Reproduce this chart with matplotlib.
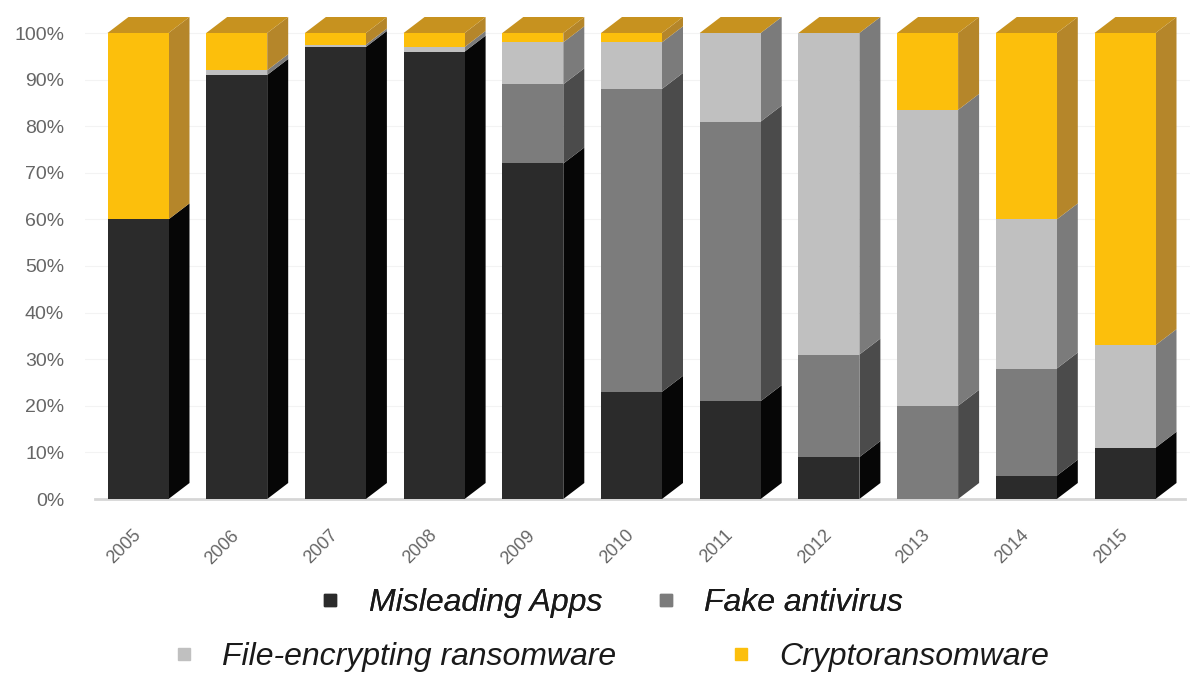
import matplotlib
matplotlib.use("Agg")
import matplotlib.pyplot as plt
from matplotlib.patches import Polygon
from matplotlib.lines import Line2D
import numpy as np

years = ["2005", "2006", "2007", "2008", "2009", "2010", "2011", "2012", "2013", "2014", "2015"]
misleading_apps = [60, 91, 97, 96, 72, 23, 21, 9, 0, 5, 11]
fake_antivirus = [0, 0, 0, 0, 17, 65, 60, 22, 20, 23, 0]
file_encrypting = [0, 1, 0.5, 1, 9, 10, 19, 69, 63.5, 32, 22]
cryptoransomware = [40, 8, 2.5, 3, 2, 2, 0, 0, 16.5, 40, 67]
series_names = ["Misleading Apps", "Fake antivirus", "File-encrypting ransomware", "Cryptoransomware"]
yticks = [0, 10, 20, 30, 40, 50, 60, 70, 80, 90, 100]

front_colors = ["#2b2b2b", "#7c7c7c", "#c0c0c0", "#fcbf0c"]
side_colors = ["#060606", "#4b4b4b", "#7b7b7b", "#b5862a"]
top_color = "#c7921f"

W, H = 1197, 678
fig = plt.figure(figsize=(W / 100, H / 100), dpi=100)
plt.rcParams['font.family'] = ['Liberation Sans', 'DejaVu Sans']

ax_left, ax_right = 85, 1190
y0_px, ylim_top = 499, 105.0
px_per_pct = 4.66
ax_top_px = y0_px - ylim_top * px_per_pct
ax = fig.add_axes([ax_left / W, (H - y0_px) / H, (ax_right - ax_left) / W, (y0_px - ax_top_px) / H])

spacing = 98.7
c0 = 138
ax.set_xlim(-(c0 - ax_left) / spacing, (ax_right - c0) / spacing)
ax.set_ylim(0, ylim_top)

x = np.arange(len(years))
bw = 61 / spacing
dx = 21 / spacing
dy = 16 / px_per_pct

data = [misleading_apps, fake_antivirus, file_encrypting, cryptoransomware]

# faint gridlines
for t in yticks[1:]:
    ax.axhline(t, color="#f3f3f3", lw=0.8, zorder=0)
ax.plot([ax.get_xlim()[0] + 0.1, ax.get_xlim()[1] - 0.05], [0, 0], color="#d6d6d6", lw=2, zorder=1, clip_on=False)

bottoms = np.zeros(len(years))
for si, vals in enumerate(data):
    vals = np.array(vals, dtype=float)
    ax.bar(x, vals, width=bw, bottom=bottoms, color=front_colors[si], zorder=3, linewidth=0)
    for i in range(len(years)):
        if vals[i] <= 0:
            continue
        b, t = bottoms[i], bottoms[i] + vals[i]
        xr = x[i] + bw / 2
        poly = Polygon([(xr, b), (xr + dx, b + dy), (xr + dx, t + dy), (xr, t)],
                       closed=True, facecolor=side_colors[si], edgecolor="none", zorder=2, clip_on=False)
        ax.add_patch(poly)
    bottoms = bottoms + vals

for i in range(len(years)):
    t = bottoms[i]
    xl, xr = x[i] - bw / 2, x[i] + bw / 2
    poly = Polygon([(xl, t), (xl + dx, t + dy), (xr + dx, t + dy), (xr, t)],
                   closed=True, facecolor=top_color, edgecolor="none", zorder=4, clip_on=False)
    ax.add_patch(poly)

for s in ax.spines.values():
    s.set_visible(False)
ax.set_yticks(yticks)
ax.set_yticklabels([f"{v}%" for v in yticks], fontsize=14, color="#666666")
ax.tick_params(axis="y", length=0, pad=15)
ax.set_xticks(x - 0.06)
ax.set_xticklabels(years, rotation=45, fontsize=13, color="#666666", ha="right", rotation_mode="anchor")
ax.tick_params(axis="x", length=0, pad=20)

def handle(c):
    return Line2D([], [], marker="s", linestyle="none", markersize=8, markerfacecolor=c, markeredgecolor=c)

font = dict(family="Liberation Sans", style="italic", size=23)
leg1 = fig.legend([handle(front_colors[0]), handle(front_colors[1])], series_names[:2],
                  loc="center", bbox_to_anchor=(612 / W, 1 - 603 / H), ncol=2, frameon=False,
                  prop=font, handlelength=0.6, handletextpad=0.9, columnspacing=1.7, labelcolor="#1a1a1a")
leg2 = fig.legend([handle(front_colors[2]), handle(front_colors[3])], series_names[2:],
                  loc="center", bbox_to_anchor=(612 / W, 1 - 657 / H), ncol=2, frameon=False,
                  prop=font, handlelength=0.6, handletextpad=0.9, columnspacing=3.6, labelcolor="#1a1a1a")
fig.add_artist(leg1)

fig.savefig("out.png", dpi=100, facecolor="white")
